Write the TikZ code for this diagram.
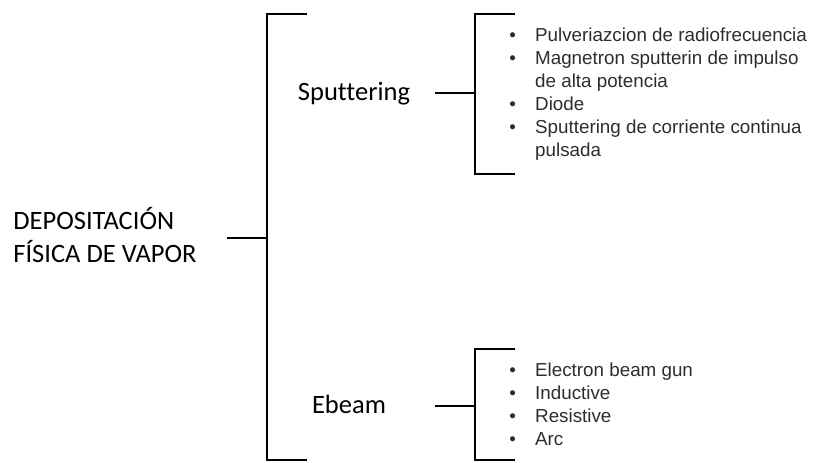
\documentclass[tikz,border=0pt]{standalone}
\usepackage{fontspec}
\setmainfont{Carlito}[Ligatures=CommonOff]
\newfontfamily\listfont{Liberation Sans}
\usetikzlibrary{positioning}
\definecolor{listgray}{RGB}{45,45,45}

\begin{document}
\begin{tikzpicture}[
    x=0.5pt, y=-0.5pt,
    brace/.style={line width=1.35pt, black},
    topic/.style={font=\fontsize{13.25}{16.5}\selectfont, inner sep=0pt, align=left},
    itemlist/.style={font=\listfont\fontsize{9.4}{11.5}\selectfont, text=listgray,
        inner sep=0pt, anchor=west}
]
    \useasboundingbox (0,0) rectangle (814,462);

    % titles
    \node[topic, anchor=base west] (root) at (13,262) {DEPOSITACIÓN\\FÍSICA DE VAPOR};
    \node[topic, anchor=base] (sput)  at (354,100) {Sputtering};
    \node[topic, anchor=base] (ebeam) at (349,413) {Ebeam};

    % lists
    \node[itemlist] (sputlist) at (509,94.5) {%
        \begin{tabular}{@{}l@{\hspace{9.6pt}}l@{}}
        \textbullet & Pulveriazcion de radiofrecuencia\\
        \textbullet & Magnetron sputterin de impulso\\
                    & de alta potencia\\
        \textbullet & Diode\\
        \textbullet & Sputtering de corriente continua\\
                    & pulsada
        \end{tabular}};
    \node[itemlist] (ebeamlist) at (509,406.5) {%
        \begin{tabular}{@{}l@{\hspace{9.6pt}}l@{}}
        \textbullet & Electron beam gun\\
        \textbullet & Inductive\\
        \textbullet & Resistive\\
        \textbullet & Arc
        \end{tabular}};

    % stems and brackets
    \coordinate (rootend)  at (227,238);
    \coordinate (mainmid)  at (267,238);
    \coordinate (sputend)  at (435,93);
    \coordinate (sputmid)  at (475,93);
    \coordinate (ebeamend) at (435,406);
    \coordinate (ebeammid) at (475,406);

    \draw[brace] (rootend) -- (mainmid);
    \draw[brace] (307,14) -| (267,460) -- (307,460);

    \draw[brace] (sputend) -- (sputmid);
    \draw[brace] (515,14) -| (475,174) -- (515,174);

    \draw[brace] (ebeamend) -- (ebeammid);
    \draw[brace] (515,349) -| (475,460) -- (515,460);
\end{tikzpicture}
\end{document}
